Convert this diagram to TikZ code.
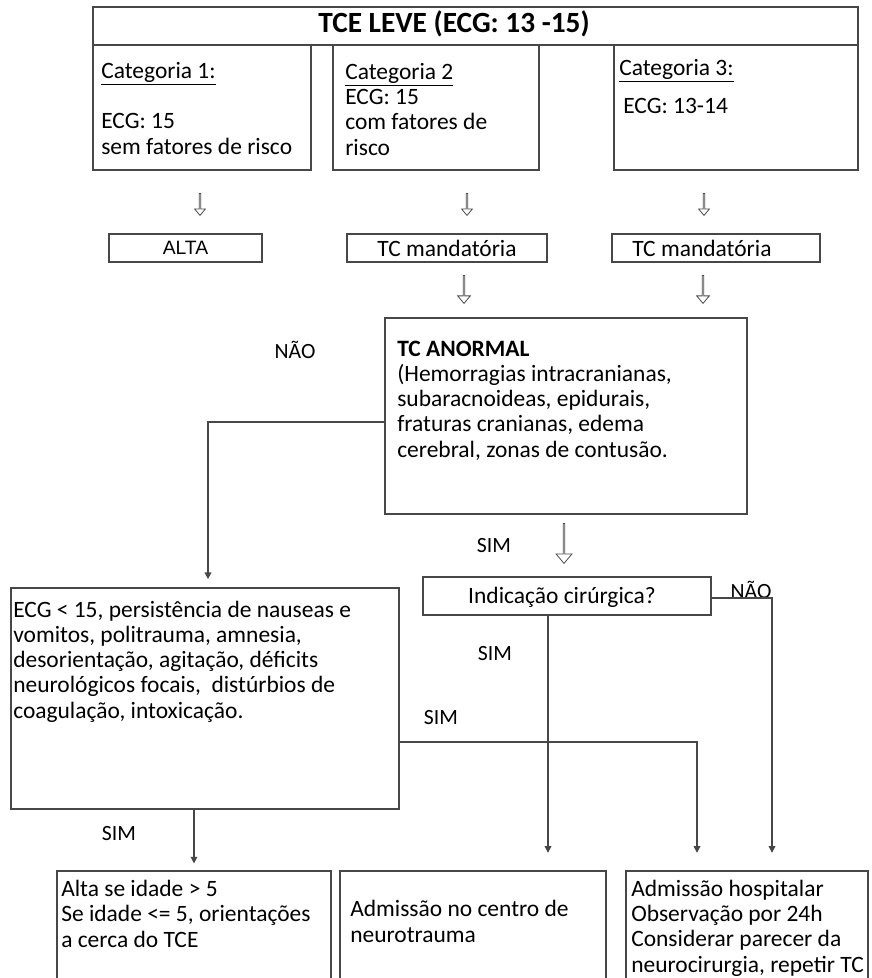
\documentclass[tikz,border=0pt]{standalone}
\usepackage{fontspec}
\setmainfont{Carlito}
\newfontfamily\arialfont{Liberation Sans}
\usetikzlibrary{fit,shapes.arrows,arrows.meta}
\tikzset{
  box/.style={draw=black!72, line width=1.3pt, inner sep=0pt},
  txt/.style={inner sep=0pt, align=left, font=\fontsize{17.6}{18.9}\selectfont, text=black},
  lbl/.style={inner sep=0pt, font=\fontsize{16.3}{18}\selectfont, text=black},
  conn/.style={draw=black!72, line width=0.9pt, -{Triangle[width=5pt,length=5pt]}},
  harrow/.style={single arrow, draw=black!70, fill=white, line width=0.6pt,
    shape border rotate=270, inner sep=0pt, single arrow tip angle=80},
  hsmall/.style={harrow, minimum height=16.5pt, minimum width=8pt, single arrow head extend=2pt},
  hmid/.style={harrow, minimum height=21pt, minimum width=9.5pt, single arrow head extend=2.4pt},
  hbig/.style={harrow, minimum height=30pt, minimum width=12pt, single arrow head extend=3pt},
}
\begin{document}
\begin{tikzpicture}[x=0.75pt,y=-0.75pt]
\clip (0,0) rectangle (871,978);
\fill[white] (0,0) rectangle (871,978);

% title and categories
\node[box, fit={(93,7) (858,45)}] (title) {};
\node[inner sep=0pt, anchor=base, font=\bfseries\fontsize{22}{25}\selectfont] (ttitle) at (454,32) {TCE LEVE (ECG: 13 -15)};
\node[box, fit={(93,45) (311,170)}] (cat1) {};
\node[box, fit={(333,45) (539,170)}] (cat2) {};
\node[box, fit={(614,45) (858,170)}] (cat3) {};
\node[txt, anchor=base west] (tcat1) at (101,154) {\underline{Categoria 1:}\\[19pt]ECG: 15\\sem fatores de risco};
\node[txt, anchor=base west] (tcat2) at (345,155) {\underline{Categoria 2}\\ECG: 15\\com fatores de\\risco};
\node[txt, anchor=base west] (tcat3a) at (619,75) {\underline{Categoria 3:}};
\node[txt, anchor=base west] (tcat3b) at (623,113) {ECG: 13-14};

% small hollow arrows
\node[hsmall] (ha1) at (200,204) {};
\node[hsmall] (ha2) at (467,204) {};
\node[hsmall] (ha3) at (704,204) {};

% second row
\node[box, fit={(109,234) (262,262)}] (alta) {};
\node[inner sep=0pt, font=\arialfont\fontsize{14.5}{16}\selectfont] (talta) at (alta.center) {ALTA};
\node[box, fit={(347,234) (547,262)}] (tcm2) {};
\node[txt] (ttcm2) at (tcm2.center) {TC mandatória};
\node[box, fit={(612,234) (820,262)}] (tcm3) {};
\node[txt, anchor=west] (ttcm3) at (632,248) {TC mandatória};

\node[hmid] (hb2) at (464,289) {};
\node[hmid] (hb3) at (703,289) {};

% TC anormal
\node[box, fit={(385,318) (747,514)}] (anormal) {};
\node[txt, anchor=base west] (tanormal) at (397,457) {\textbf{TC ANORMAL}\\(Hemorragias intracranianas,\\subaracnoideas, epidurais,\\fraturas cranianas, edema\\cerebral, zonas de contusão.};
\node[lbl] (nao1) at (295,350) {NÃO};

% SIM + arrow to indicacao
\node[lbl] (sim1) at (494,546) {SIM};
\node[hbig] (hc) at (564,543) {};
\node[box, fit={(423,577) (711,615)}] (indic) {};
\node[txt] (tindic) at (562,597) {Indicação cirúrgica?};
\node[lbl] (nao2) at (751,590) {NÃO};
\node[lbl] (sim2) at (495,654) {SIM};
\node[lbl] (sim3) at (441,718) {SIM};

% ECG box
\node[box, fit={(11,588) (399,809)}] (ecgbox) {};
\node[txt, anchor=base west] (tecg) at (13,718) {ECG < 15, persistência de nauseas e\\vomitos, politrauma, amnesia,\\desorientação, agitação, déficits\\neurológicos focais,\ \ distúrbios de\\coagulação, intoxicação.};
\node[lbl] (sim4) at (119,834) {SIM};

% bottom boxes
\node[box, fit={(57,871) (331,1000)}] (outA) {};
\node[box, fit={(340,871) (606,1000)}] (outB) {};
\node[box, fit={(626,871) (868,1000)}] (outC) {};
\node[txt, anchor=base west] (toutA) at (61,947) {Alta se idade > 5\\Se idade <= 5, orientações\\a cerca do TCE};
\node[txt, anchor=base west] (toutB) at (350,942) {Admissão no centro de\\neurotrauma};
\node[txt, anchor=base west] (toutC) at (631,972) {Admissão hospitalar\\Observação por 24h\\Considerar parecer da\\neurocirurgia, repetir TC};

% connectors
\coordinate (k1) at (208,422);
\coordinate (k2) at (772,598);
\coordinate (k3) at (548,600);
\coordinate (k4) at (697,742);
\coordinate (k5) at (194,820);
\draw[conn, shorten >=6pt] (anormal.west |- k1) -| (ecgbox.north -| k1);
\draw[conn, shorten >=13pt] (indic.east |- k2) -| (outC.north -| k2);
\draw[conn, shorten >=13pt] (indic.south -| k3) -- (outB.north -| k3);
\draw[conn, shorten >=13pt] (ecgbox.east |- k4) -| (outC.north -| k4);
\draw[conn, shorten >=5pt] (ecgbox.south -| k5) -- (outA.north -| k5);
\end{tikzpicture}
\end{document}
